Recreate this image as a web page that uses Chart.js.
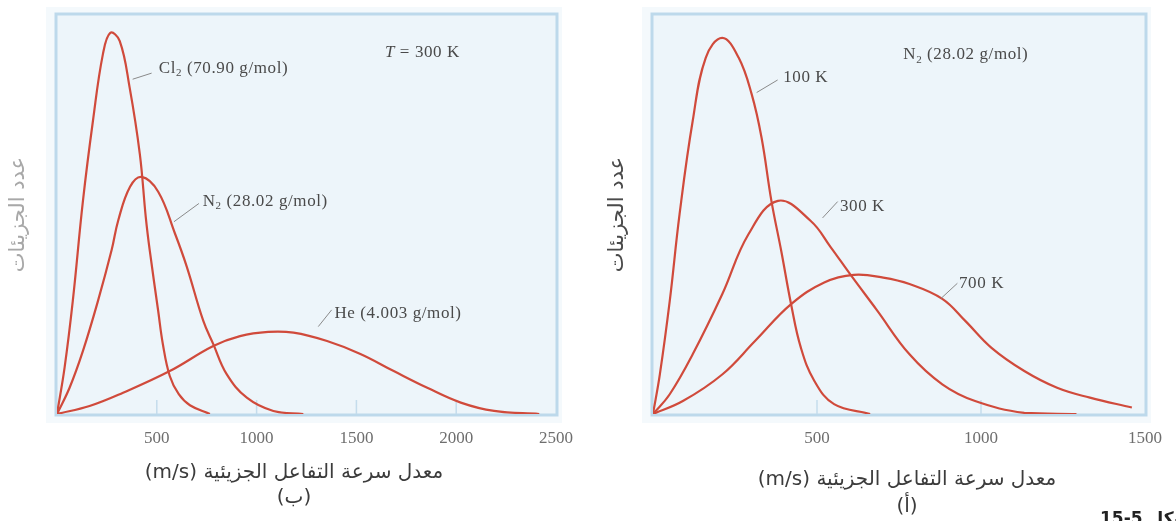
<!DOCTYPE html>
<html lang="ar">
<head>
<meta charset="utf-8">
<title>توزيع سرعات الجزيئات</title>
<script src="https://cdn.jsdelivr.net/npm/chart.js@4.4.1/dist/chart.umd.min.js"></script>
<style>
    html, body { margin: 0; padding: 0; background: #fff; }
    body { width: 1176px; height: 521px; position: relative; overflow: hidden; }
    canvas { position: absolute; top: 0; }
    #chartGas { left: 0; }
    #chartTemp { left: 588px; }
    .caption {
        position: absolute; width: 440px; text-align: center; direction: rtl;
        font-family: "DejaVu Sans", sans-serif; font-size: 20px; color: #3c3c3c; white-space: nowrap;
    }
    #capGas { left: 74px; top: 459px; line-height: 25px; }
    #capTemp { left: 687px; top: 465px; line-height: 27px; }
    #figNo { position: absolute; left: 1100px; top: 508px; font: bold 17px "DejaVu Sans", sans-serif; color: #222; white-space: nowrap; }
</style>
</head>
<body>
<canvas id="chartGas" width="588" height="521"></canvas>
<canvas id="chartTemp" width="588" height="521"></canvas>
<div class="caption" id="capGas">معدل سرعة التفاعل الجزيئية (m/s)<br>(ب)</div>
<div class="caption" id="capTemp">معدل سرعة التفاعل الجزيئية (m/s)<br>(أ)</div>
<div id="figNo"><span dir="ltr">15-5</span> الشكل</div>

<script>
// (ب) three gases at T = 300 K  -- speed in m/s, relative number of molecules
const cl2Speed = [0, 38, 79, 130, 180, 230, 267, 314, 364, 415, 445, 465, 507, 530, 565, 610, 666, 766];
const cl2Count = [0, 12.2, 29.7, 56.1, 77.1, 94.7, 100.3, 98.2, 85.9, 68.4, 51.7, 42.9, 27.1, 18.5, 10.0, 5.2, 2.3, 0];

const n2Speed = [0, 63, 130, 205, 274, 307, 366, 424, 507, 591, 650, 733, 783, 850, 951, 1084, 1234];
const n2Count = [0, 6.9, 16.6, 29.7, 43.2, 51.0, 59.8, 62.4, 58.5, 47.5, 38.8, 24.5, 18.4, 10.5, 4.3, 0.8, 0];

const heSpeed = [0, 163, 331, 565, 783, 917, 1058, 1185, 1353, 1520, 1687, 1855, 2023, 2190, 2416];
const heCount = [0, 2.1, 5.6, 11.3, 17.9, 20.5, 21.6, 21.4, 19.2, 15.8, 11.3, 6.9, 3.0, 0.8, 0];

// (أ) N2 at three temperatures
const k100Speed = [0, 21, 51, 81, 121, 161, 211, 261, 301, 331, 361, 391, 421, 451, 492, 552, 662];
const k100Count = [0, 10.5, 29.7, 52.6, 77.1, 93.8, 99.0, 93.8, 84.1, 72.7, 56.1, 42.9, 28.9, 17.4, 8.7, 2.6, 0];

const k300Speed = [0, 51, 121, 211, 291, 381, 481, 541, 601, 682, 782, 882, 982, 1132, 1291];
const k300Count = [0, 5.2, 15.7, 31.5, 47.3, 56.1, 50.8, 44.0, 36.8, 27.4, 15.7, 7.8, 3.4, 0.3, 0];

const k700Speed = [0, 91, 211, 311, 421, 522, 612, 702, 782, 882, 952, 1032, 1132, 1232, 1332, 1460];
const k700Count = [0, 3.4, 10.4, 19.2, 28.9, 34.6, 36.6, 35.9, 34.2, 30.3, 24.5, 17.4, 11.3, 6.9, 4.3, 1.7];

const gasTicks = [500, 1000, 1500, 2000, 2500];
const tempTicks = [500, 1000, 1500];

const yTitle = 'عدد الجزيئات';
const curveColor = '#d04a3b';

toPoints = (speeds, counts) => speeds.map((v, i) => ({ x: v, y: counts[i] }));

// light blue box behind the plot, with short ticks standing on the base line
const panelFrame = {
    id: 'panelFrame',
    beforeDraw(chart) {
        const { ctx, chartArea: a } = chart;
        const xs = chart.scales.x;
        ctx.save();
        ctx.fillStyle = '#f4f9fc';
        ctx.fillRect(a.left - 11, a.top - 8, a.right - a.left + 17, a.bottom - a.top + 17);
        ctx.fillStyle = '#edf5fa';
        ctx.fillRect(a.left, a.top, a.right - a.left, a.bottom - a.top);
        ctx.strokeStyle = '#bdd9eb';
        ctx.lineWidth = 3;
        ctx.strokeRect(a.left - 1, a.top - 1, a.right - a.left + 2, a.bottom - a.top + 2);
        ctx.strokeStyle = '#c4dcec';
        ctx.lineWidth = 1.5;
        xs.ticks.forEach(t => {
            if (t.value === 0 || t.value === xs.max) return;
            const px = xs.getPixelForValue(t.value);
            ctx.beginPath();
            ctx.moveTo(px, a.bottom);
            ctx.lineTo(px, a.bottom - 14);
            ctx.stroke();
        });
        ctx.restore();
    }
};

// curve labels with their short leader lines, placed in data units
makeNotes = (notes) => ({
    id: 'curveNotes',
    afterDatasetsDraw(chart) {
        const { ctx, scales: { x, y } } = chart;
        ctx.save();
        notes.forEach(n => {
            if (n.from) {
                ctx.strokeStyle = '#8a8a8a';
                ctx.lineWidth = 1;
                ctx.beginPath();
                ctx.moveTo(x.getPixelForValue(n.from[0]), y.getPixelForValue(n.from[1]));
                ctx.lineTo(x.getPixelForValue(n.to[0]), y.getPixelForValue(n.to[1]));
                ctx.stroke();
            }
            let px = x.getPixelForValue(n.at[0]);
            const py = y.getPixelForValue(n.at[1]);
            ctx.fillStyle = '#4a4a4a';
            ctx.textBaseline = 'middle';
            ctx.textAlign = 'left';
            ctx.letterSpacing = '0.6px';
            n.parts.forEach(([t, kind]) => {
                const size = kind === 'sub' ? 11 : 17;
                ctx.font = (kind === 'i' ? 'italic ' : '') + size + 'px "Liberation Serif"';
                ctx.fillText(t, px, kind === 'sub' ? py + 5 : py);
                px += ctx.measureText(t).width;
            });
        });
        ctx.restore();
    }
});

lineSet = (label, speeds, counts) => ({
    label: label,
    data: toPoints(speeds, counts),
    borderColor: curveColor,
    borderWidth: 2.2,
    pointRadius: 0,
    fill: false,
    tension: 0.4
});

baseOptions = (xMax, tickList, yWidth, padRight, titleColor, titlePad) => ({
    responsive: false,
    animation: false,
    layout: { padding: { top: 15, right: padRight, bottom: 0, left: 0 } },
    plugins: { legend: { display: false }, tooltip: { enabled: false } },
    scales: {
        x: {
            type: 'linear',
            min: 0,
            max: xMax,
            afterFit: (axis) => { axis.height = 107; },
            grid: { display: false, drawTicks: false },
            border: { display: false },
            ticks: {
                stepSize: 500,
                padding: 14,
                color: '#6e6e6e',
                font: { family: 'Liberation Serif', size: 17 },
                callback: (v) => tickList.includes(v) ? String(v) : ''
            }
        },
        y: {
            min: 0,
            max: 105,
            afterFit: (axis) => { axis.width = yWidth; },
            grid: { display: false },
            border: { display: false },
            ticks: { display: false },
            title: {
                display: true,
                text: yTitle,
                color: titleColor,
                font: { family: 'DejaVu Sans', size: 21 },
                padding: { top: titlePad, bottom: 0 }
            }
        }
    }
});

setupChartGas = () => {
    const notes = [
        { parts: [['Cl'], ['2', 'sub'], [' (70.90 g/mol)']], at: [510, 91], from: [379, 88.1], to: [474, 89.7] },
        { parts: [['T', 'i'], [' = 300 K']], at: [1643, 95] },
        { parts: [['N'], ['2', 'sub'], [' (28.02 g/mol)']], at: [730, 55.9], from: [586, 50.6], to: [711, 55.4] },
        { parts: [['He (4.003 g/mol)']], at: [1390, 26.5], from: [1309, 23], to: [1376, 27.4] }
    ];
    new Chart(document.getElementById('chartGas'), {
        type: 'line',
        data: {
            datasets: [
                lineSet('Cl2 (70.90 g/mol)', cl2Speed, cl2Count),
                lineSet('N2 (28.02 g/mol)', n2Speed, n2Count),
                lineSet('He (4.003 g/mol)', heSpeed, heCount)
            ]
        },
        options: baseOptions(2500, gasTicks, 57, 32, '#a8a8a8', 6),
        plugins: [panelFrame, makeNotes(notes)]
    });
};

setupChartTemp = () => {
    const notes = [
        { parts: [['N'], ['2', 'sub'], [' (28.02 g/mol)']], at: [763, 94.5] },
        { parts: [['100 K']], at: [397, 88.6], from: [316, 84.6], to: [380, 87.9] },
        { parts: [['300 K']], at: [570, 54.6], from: [517, 51.6], to: [563, 55.9] },
        { parts: [['700 K']], at: [933, 34.4], from: [878, 30.4], to: [928, 34.4] }
    ];
    new Chart(document.getElementById('chartTemp'), {
        type: 'line',
        data: {
            datasets: [
                lineSet('100 K', k100Speed, k100Count),
                lineSet('300 K', k300Speed, k300Count),
                lineSet('700 K', k700Speed, k700Count)
            ]
        },
        options: baseOptions(1500, tempTicks, 65, 24, '#4a4a4a', 17),
        plugins: [panelFrame, makeNotes(notes)]
    });
};

setupChartGas();
setupChartTemp();
</script>
</body>
</html>
